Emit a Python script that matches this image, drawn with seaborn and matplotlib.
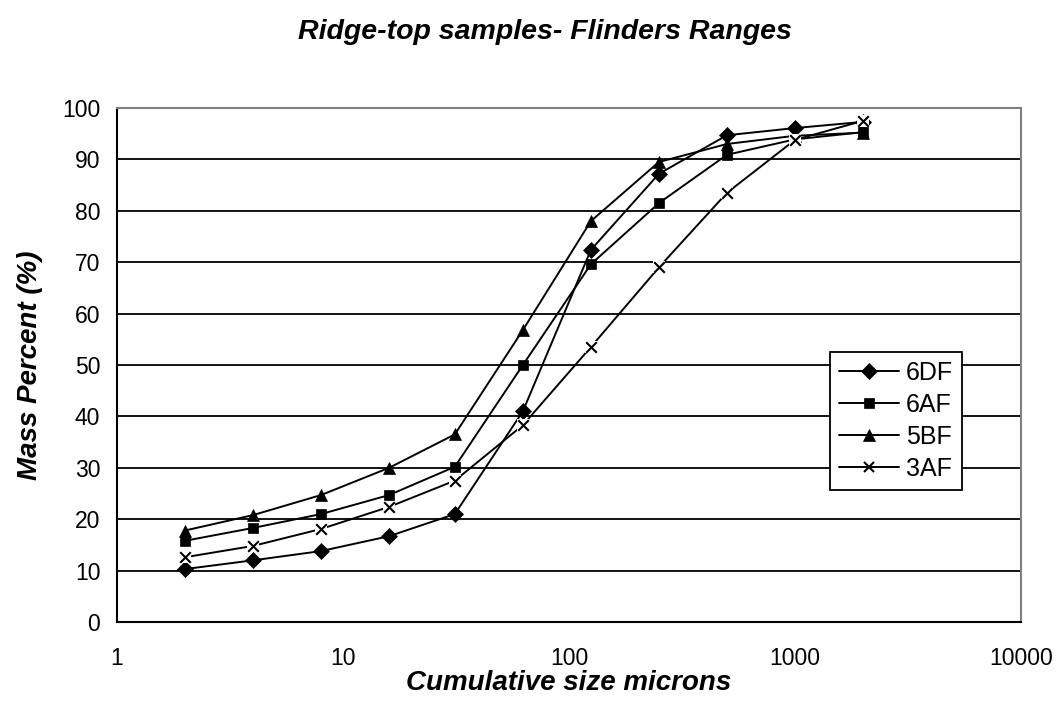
import matplotlib
matplotlib.use("Agg")
import matplotlib.pyplot as plt
import seaborn as sns
import pandas as pd
from matplotlib.ticker import FixedLocator, NullLocator, FixedFormatter

sizes = [2, 4, 8, 16, 31.25, 62.5, 125, 250, 500, 1000, 2000]
s_6DF = [10.3, 12.0, 13.8, 16.7, 21.0, 41.0, 72.4, 87.2, 94.7, 96.1, 97.3]
s_6AF = [15.8, 18.3, 21.0, 24.7, 30.2, 50.0, 69.6, 81.5, 90.9, 93.9, 95.3]
s_5BF = [17.8, 20.8, 24.7, 30.0, 36.5, 56.8, 78.0, 89.5, 93.0, 94.6, 95.2]
s_3AF = [12.6, 14.8, 18.1, 22.4, 27.5, 38.3, 53.5, 69.0, 83.5, 93.8, 97.5]

series_names = ["6DF", "6AF", "5BF", "3AF"]
series_vals = [s_6DF, s_6AF, s_5BF, s_3AF]
markers = ["D", "s", "^", "x"]
msizes = [8, 7.5, 9, 7.5]

yticks = [0, 10, 20, 30, 40, 50, 60, 70, 80, 90, 100]
xticks = [1, 10, 100, 1000, 10000]
xticklabels = ["1", "10", "100", "1000", "10000"]

sns.set_theme(style="white")
plt.rcParams["font.family"] = ["Liberation Sans", "DejaVu Sans"]
for k in ["text.color", "axes.labelcolor", "xtick.color", "ytick.color"]:
    plt.rcParams[k] = "black"

fig = plt.figure(figsize=(10.61, 7.23), dpi=100)
ax = fig.add_axes([117/1061, 1-622/723, (1021-117)/1061, (622-108)/723])

for name, vals, mk, ms in zip(series_names, series_vals, markers, msizes):
    df = pd.DataFrame({"size": sizes, "pct": vals})
    sns.lineplot(data=df, x="size", y="pct", ax=ax, color="black", lw=1.4,
                 marker=mk, markersize=ms, markeredgecolor="black",
                 markerfacecolor="black", markeredgewidth=1.5 if mk == "x" else 0.5,
                 label=name, zorder=3)

# Excel-style white background behind the x markers of the last series
df3 = pd.DataFrame({"size": sizes, "pct": s_3AF})
sns.scatterplot(data=df3, x="size", y="pct", ax=ax, marker="s", color="white",
                s=70, linewidth=0, zorder=4, legend=False)
sns.scatterplot(data=df3, x="size", y="pct", ax=ax, marker="x", color="black",
                s=58, linewidth=1.5, zorder=5, legend=False)

ax.set_xscale("log")
ax.set_xlim(1, 10000)
ax.set_ylim(0, 100)
ax.xaxis.set_major_locator(FixedLocator(xticks))
ax.xaxis.set_major_formatter(FixedFormatter(xticklabels))
ax.xaxis.set_minor_locator(NullLocator())
ax.set_yticks(yticks)
ax.set_yticklabels([str(v) for v in yticks])

for v in yticks[1:-1]:
    ax.axhline(v, color="black", lw=1.3, zorder=1)

for side in ["left", "bottom"]:
    ax.spines[side].set_color("black")
    ax.spines[side].set_linewidth(1.5)
for side in ["top", "right"]:
    ax.spines[side].set_color("#808080")
    ax.spines[side].set_linewidth(1.5)
    ax.spines[side].set_visible(True)

ax.tick_params(axis="both", which="major", direction="out", length=6, width=1.3,
               color="black", labelsize=16.5, labelcolor="black")
ax.tick_params(axis="y", pad=6)
ax.tick_params(axis="x", pad=12)

ax.set_xlabel("Cumulative size microns", fontsize=20, fontweight="bold",
              fontstyle="italic")
ax.xaxis.set_label_coords((569-117)/904, (622-683)/514)
ax.xaxis.label.set_va("center")
ax.set_ylabel("Mass Percent (%)", fontsize=20, fontweight="bold",
              fontstyle="italic")
ax.yaxis.set_label_coords((30-117)/904, (622-365)/514)
ax.yaxis.label.set_va("center")
fig.text(545/1061, 1-32/723, "Ridge-top samples- Flinders Ranges", ha="center",
         va="center", fontsize=20.5, fontweight="bold", fontstyle="italic")

leg = ax.legend(loc="upper right", bbox_to_anchor=((962-117)/904, (622-352)/514),
                frameon=True, fancybox=False, shadow=False, fontsize=18,
                borderpad=0.35, labelspacing=0.32, handlelength=2.4,
                handletextpad=0.3, borderaxespad=0)
leg.get_frame().set_edgecolor("black")
leg.get_frame().set_linewidth(1.3)
leg.get_frame().set_alpha(1)
leg.set_zorder(10)

fig.savefig("out.png", dpi=100)
